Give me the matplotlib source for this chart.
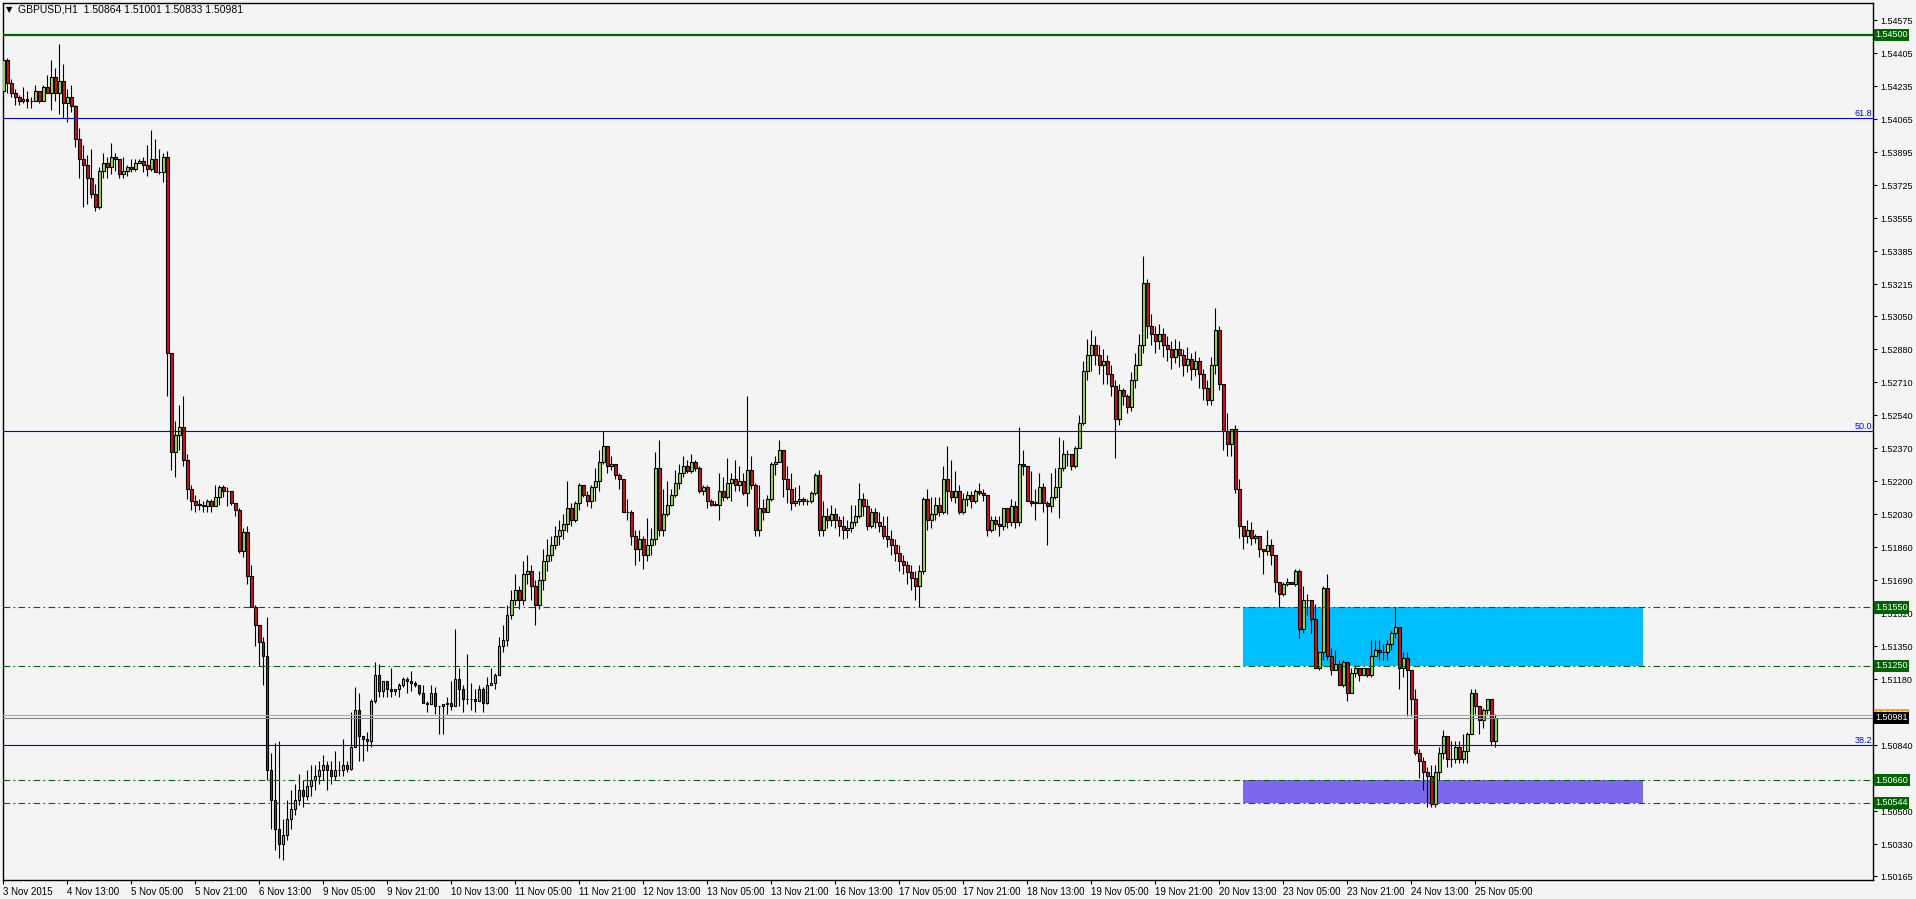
import numpy as np
import matplotlib.pyplot as plt

# ---------- data (GBPUSD H1, one value per bar) ----------
symbol_text = "GBPUSD,H1  1.50864 1.51001 1.50833 1.50981"
first_open = 1.5421
last_open = 1.50864

closes = [
    1.5437, 1.5425, 1.5420, 1.5418, 1.5416, 1.5417, 1.5416, 1.5416, 1.5421, 1.5416,
    1.5423, 1.5420, 1.5428, 1.5420, 1.5426, 1.5415, 1.5418, 1.5413, 1.5396, 1.5386,
    1.5383, 1.5376, 1.5368, 1.5361, 1.5380, 1.5384, 1.5382, 1.5387, 1.5386, 1.5378,
    1.5380, 1.5382, 1.5381, 1.5384, 1.5385, 1.5383, 1.5381, 1.5386, 1.5379, 1.5379,
    1.5387, 1.5286, 1.5235, 1.5244, 1.5248, 1.5231, 1.5216, 1.5210, 1.5208, 1.5208,
    1.5207, 1.5210, 1.5207, 1.5212, 1.5217, 1.5215, 1.5215, 1.5209, 1.5205, 1.5184,
    1.5194, 1.5171, 1.5155, 1.5146, 1.5137, 1.5130, 1.5071, 1.5056, 1.5041, 1.5033,
    1.5038, 1.5046, 1.5051, 1.5056, 1.5061, 1.5058, 1.5063, 1.5066, 1.5068, 1.5071,
    1.5074, 1.5071, 1.5068, 1.5071, 1.5071, 1.5074, 1.5072, 1.5083, 1.5102, 1.5089,
    1.5087, 1.5086, 1.5107, 1.5120, 1.5112, 1.5117, 1.5113, 1.5112, 1.5113, 1.5115,
    1.5118, 1.5117, 1.5116, 1.5115, 1.5111, 1.5106, 1.5105, 1.5111, 1.5104, 1.5104,
    1.5105, 1.5106, 1.5104, 1.5118, 1.5113, 1.5108, 1.5108, 1.5108, 1.5107, 1.5113,
    1.5106, 1.5115, 1.5116, 1.5120, 1.5135, 1.5138, 1.5151, 1.5159, 1.5164, 1.5159,
    1.5172, 1.5174, 1.5166, 1.5156, 1.5169, 1.5179, 1.5182, 1.5187, 1.5192, 1.5195,
    1.5198, 1.5206, 1.5200, 1.5209, 1.5218, 1.5213, 1.5210, 1.5217, 1.5220, 1.5230,
    1.5238, 1.5228, 1.5229, 1.5223, 1.5221, 1.5204, 1.5204, 1.5192, 1.5185, 1.5190,
    1.5182, 1.5187, 1.5190, 1.5227, 1.5195, 1.5203, 1.5208, 1.5213, 1.5219, 1.5224,
    1.5228, 1.5225, 1.5230, 1.5227, 1.5215, 1.5217, 1.5210, 1.5208, 1.5208, 1.5215,
    1.5212, 1.5219, 1.5221, 1.5218, 1.5220, 1.5214, 1.5226, 1.5218, 1.5195, 1.5206,
    1.5204, 1.5211, 1.5229, 1.5230, 1.5236, 1.5221, 1.5216, 1.5209, 1.5210, 1.5211,
    1.5210, 1.5210, 1.5214, 1.5223, 1.5195, 1.5202, 1.5200, 1.5203, 1.5200, 1.5197,
    1.5195, 1.5196, 1.5199, 1.5202, 1.5211, 1.5207, 1.5197, 1.5204, 1.5199, 1.5197,
    1.5192, 1.5190, 1.5187, 1.5183, 1.5179, 1.5177, 1.5173, 1.5170, 1.5166, 1.5174,
    1.5211, 1.5200, 1.5203, 1.5208, 1.5204, 1.5221, 1.5215, 1.5212, 1.5215, 1.5204,
    1.5211, 1.5213, 1.5210, 1.5215, 1.5214, 1.5213, 1.5195, 1.5200, 1.5198, 1.5197,
    1.5206, 1.5199, 1.5207, 1.5199, 1.5229, 1.5228, 1.5210, 1.5209, 1.5209, 1.5217,
    1.5209, 1.5207, 1.5212, 1.5217, 1.5227, 1.5234, 1.5234, 1.5228, 1.5237, 1.5250,
    1.5277, 1.5285, 1.5290, 1.5285, 1.5280, 1.5282, 1.5275, 1.5269, 1.5252, 1.5267,
    1.5264, 1.5258, 1.5272, 1.5280, 1.5290, 1.5322, 1.5300, 1.5296, 1.5292, 1.5296,
    1.5290, 1.5288, 1.5284, 1.5288, 1.5285, 1.5280, 1.5283, 1.5278, 1.5282, 1.5275,
    1.5268, 1.5262, 1.5280, 1.5298, 1.5270, 1.5246, 1.5239, 1.5247, 1.5216, 1.5197,
    1.5192, 1.5195, 1.5191, 1.5192, 1.5185, 1.5184, 1.5187, 1.5182, 1.5168, 1.5162,
    1.5167, 1.5168, 1.5167, 1.5174, 1.5144, 1.5159, 1.5159, 1.5149, 1.5124, 1.5132,
    1.5165, 1.5130, 1.5123, 1.5126, 1.5115, 1.5127, 1.5111, 1.5121, 1.5124, 1.5120,
    1.5124, 1.5120, 1.5130, 1.5133, 1.5132, 1.5132, 1.5136, 1.5142, 1.5145, 1.5124,
    1.5129, 1.5123, 1.5108, 1.5080, 1.5076, 1.5070, 1.5068, 1.5054, 1.5070, 1.5080,
    1.5089, 1.5077, 1.5077, 1.5083, 1.5077, 1.5081, 1.5090, 1.5111, 1.5104, 1.5097,
    1.5102, 1.5108, 1.5086, 1.50981,
]

highs = [
    1.5437, 1.5438, 1.5427, 1.5422, 1.5419, 1.5423, 1.5421, 1.5418, 1.5424, 1.5421,
    1.5424, 1.5429, 1.5437, 1.5433, 1.5445, 1.5435, 1.5422, 1.5424, 1.5414, 1.5402,
    1.5393, 1.5388, 1.5391, 1.5373, 1.5382, 1.5389, 1.5387, 1.5394, 1.5389, 1.5386,
    1.5387, 1.5383, 1.5386, 1.5386, 1.5386, 1.5387, 1.5393, 1.5401, 1.5396, 1.5391,
    1.5389, 1.5390, 1.5286, 1.5251, 1.5259, 1.5264, 1.5234, 1.5218, 1.5213, 1.5211,
    1.5210, 1.5211, 1.5211, 1.5218, 1.5218, 1.5218, 1.5217, 1.5215, 1.5209, 1.5206,
    1.5196, 1.5197, 1.5177, 1.5156, 1.5146, 1.5140, 1.5150, 1.5080, 1.5085, 1.5086,
    1.5046, 1.5056, 1.5061, 1.5064, 1.5069, 1.5066, 1.5071, 1.5074, 1.5074, 1.5076,
    1.5079, 1.5076, 1.5076, 1.5081, 1.5076, 1.5087, 1.5076, 1.5101, 1.5114, 1.5111,
    1.5089, 1.5091, 1.5108, 1.5127, 1.5126, 1.5117, 1.5117, 1.5124, 1.5113, 1.5116,
    1.5119, 1.5119, 1.5122, 1.5117, 1.5115, 1.5115, 1.5107, 1.5115, 1.5114, 1.5104,
    1.5105, 1.5109, 1.5117, 1.5144, 1.5124, 1.5115, 1.5131, 1.5116, 1.5113, 1.5115,
    1.5114, 1.5119, 1.5124, 1.5121, 1.5140, 1.5146, 1.5156, 1.5164, 1.5172, 1.5166,
    1.5179, 1.5182, 1.5177, 1.5169, 1.5174, 1.5185, 1.5190, 1.5192, 1.5197, 1.5200,
    1.5203, 1.5220, 1.5209, 1.5210, 1.5219, 1.5218, 1.5215, 1.5218, 1.5227, 1.5236,
    1.5246, 1.5238, 1.5233, 1.5229, 1.5224, 1.5221, 1.5211, 1.5205, 1.5195, 1.5195,
    1.5192, 1.5201, 1.5196, 1.5235, 1.5241, 1.5216, 1.5220, 1.5216, 1.5226, 1.5229,
    1.5233, 1.5231, 1.5234, 1.5231, 1.5228, 1.5218, 1.5218, 1.5211, 1.5210, 1.5224,
    1.5222, 1.5232, 1.5224, 1.5231, 1.5228, 1.5224, 1.5264, 1.5233, 1.5219, 1.5218,
    1.5211, 1.5213, 1.5230, 1.5233, 1.5241, 1.5230, 1.5228, 1.5224, 1.5217, 1.5218,
    1.5212, 1.5211, 1.5215, 1.5224, 1.5226, 1.5210, 1.5206, 1.5208, 1.5206, 1.5202,
    1.5202, 1.5200, 1.5208, 1.5208, 1.5219, 1.5214, 1.5211, 1.5206, 1.5206, 1.5204,
    1.5202, 1.5202, 1.5195, 1.5190, 1.5187, 1.5182, 1.5179, 1.5177, 1.5174, 1.5177,
    1.5212, 1.5216, 1.5212, 1.5212, 1.5212, 1.5228, 1.5238, 1.5231, 1.5225, 1.5218,
    1.5214, 1.5215, 1.5215, 1.5216, 1.5219, 1.5216, 1.5213, 1.5202, 1.5202, 1.5202,
    1.5206, 1.5206, 1.5211, 1.5210, 1.5248, 1.5236, 1.5228, 1.5225, 1.5216, 1.5224,
    1.5219, 1.5210, 1.5224, 1.5227, 1.5243, 1.5241, 1.5236, 1.5234, 1.5238, 1.5254,
    1.5282, 1.5293, 1.5298, 1.5295, 1.5290, 1.5288, 1.5285, 1.5280, 1.5272, 1.5270,
    1.5268, 1.5265, 1.5276, 1.5286, 1.5296, 1.5336, 1.5324, 1.5306, 1.5300, 1.5301,
    1.5299, 1.5295, 1.5292, 1.5293, 1.5292, 1.5288, 1.5289, 1.5286, 1.5287, 1.5284,
    1.5278, 1.5272, 1.5284, 1.5309, 1.5300, 1.5270, 1.5255, 1.5247, 1.5249, 1.5221,
    1.5197, 1.5200, 1.5199, 1.5193, 1.5192, 1.5185, 1.5195, 1.5190, 1.5182, 1.5168,
    1.5168, 1.5170, 1.5168, 1.5175, 1.5175, 1.5166, 1.5162, 1.5159, 1.5157, 1.5132,
    1.5166, 1.5172, 1.5134, 1.5133, 1.5128, 1.5128, 1.5117, 1.5124, 1.5125, 1.5124,
    1.5124, 1.5124, 1.5138, 1.5138, 1.5138, 1.5136, 1.5138, 1.5143, 1.5155, 1.5145,
    1.5132, 1.5132, 1.5114, 1.5113, 1.5082, 1.5078, 1.5073, 1.5074, 1.5074, 1.5083,
    1.5092, 1.5089, 1.5086, 1.5086, 1.5086, 1.5090, 1.5091, 1.5113, 1.5113, 1.5104,
    1.5103, 1.5108, 1.5108, 1.51001,
]

lows = [
    1.5416, 1.5420, 1.5418, 1.5414, 1.5414, 1.5415, 1.5412, 1.5412, 1.5416, 1.5415,
    1.5416, 1.5420, 1.5411, 1.5416, 1.5409, 1.5407, 1.5405, 1.5410, 1.5392, 1.5376,
    1.5361, 1.5363, 1.5366, 1.5359, 1.5360, 1.5376, 1.5376, 1.5378, 1.5380, 1.5376,
    1.5376, 1.5377, 1.5379, 1.5380, 1.5384, 1.5379, 1.5377, 1.5380, 1.5379, 1.5378,
    1.5374, 1.5264, 1.5226, 1.5222, 1.5236, 1.5228, 1.5211, 1.5205, 1.5204, 1.5205,
    1.5204, 1.5204, 1.5204, 1.5208, 1.5208, 1.5212, 1.5207, 1.5208, 1.5202, 1.5183,
    1.5181, 1.5167, 1.5155, 1.5135, 1.5125, 1.5115, 1.5066, 1.5041, 1.5030, 1.5026,
    1.5025, 1.5035, 1.5041, 1.5048, 1.5053, 1.5052, 1.5056, 1.5058, 1.5061, 1.5064,
    1.5066, 1.5061, 1.5064, 1.5066, 1.5068, 1.5068, 1.5070, 1.5071, 1.5083, 1.5076,
    1.5076, 1.5081, 1.5083, 1.5106, 1.5109, 1.5109, 1.5109, 1.5109, 1.5110, 1.5109,
    1.5114, 1.5111, 1.5112, 1.5114, 1.5110, 1.5106, 1.5101, 1.5105, 1.5100, 1.5090,
    1.5090, 1.5100, 1.5102, 1.5104, 1.5104, 1.5101, 1.5105, 1.5102, 1.5101, 1.5107,
    1.5101, 1.5105, 1.5115, 1.5113, 1.5120, 1.5132, 1.5135, 1.5149, 1.5156, 1.5154,
    1.5156, 1.5167, 1.5159, 1.5146, 1.5154, 1.5164, 1.5174, 1.5179, 1.5185, 1.5187,
    1.5190, 1.5194, 1.5197, 1.5199, 1.5205, 1.5212, 1.5207, 1.5206, 1.5210, 1.5215,
    1.5229, 1.5224, 1.5226, 1.5221, 1.5216, 1.5204, 1.5200, 1.5187, 1.5177, 1.5179,
    1.5175, 1.5179, 1.5182, 1.5187, 1.5192, 1.5192, 1.5202, 1.5207, 1.5212, 1.5216,
    1.5222, 1.5224, 1.5224, 1.5225, 1.5214, 1.5213, 1.5206, 1.5207, 1.5207, 1.5200,
    1.5210, 1.5211, 1.5210, 1.5215, 1.5215, 1.5213, 1.5207, 1.5216, 1.5192, 1.5192,
    1.5200, 1.5204, 1.5210, 1.5223, 1.5230, 1.5212, 1.5209, 1.5205, 1.5207, 1.5208,
    1.5208, 1.5208, 1.5209, 1.5213, 1.5192, 1.5192, 1.5196, 1.5197, 1.5196, 1.5192,
    1.5190, 1.5191, 1.5194, 1.5197, 1.5201, 1.5202, 1.5195, 1.5196, 1.5196, 1.5194,
    1.5190, 1.5186, 1.5182, 1.5179, 1.5174, 1.5172, 1.5167, 1.5164, 1.5159, 1.5155,
    1.5172, 1.5195, 1.5196, 1.5200, 1.5202, 1.5203, 1.5203, 1.5210, 1.5209, 1.5203,
    1.5203, 1.5207, 1.5206, 1.5209, 1.5213, 1.5210, 1.5192, 1.5194, 1.5195, 1.5192,
    1.5195, 1.5196, 1.5197, 1.5196, 1.5197, 1.5223, 1.5210, 1.5207, 1.5200, 1.5209,
    1.5204, 1.5187, 1.5204, 1.5211, 1.5201, 1.5225, 1.5228, 1.5226, 1.5227, 1.5237,
    1.5249, 1.5272, 1.5277, 1.5280, 1.5275, 1.5270, 1.5270, 1.5264, 1.5232, 1.5249,
    1.5259, 1.5255, 1.5256, 1.5268, 1.5280, 1.5286, 1.5294, 1.5290, 1.5286, 1.5288,
    1.5284, 1.5282, 1.5278, 1.5281, 1.5279, 1.5274, 1.5276, 1.5272, 1.5274, 1.5268,
    1.5262, 1.5259, 1.5259, 1.5275, 1.5267, 1.5236, 1.5233, 1.5233, 1.5214, 1.5191,
    1.5185, 1.5188, 1.5187, 1.5188, 1.5181, 1.5172, 1.5182, 1.5177, 1.5163, 1.5155,
    1.5161, 1.5166, 1.5167, 1.5166, 1.5139, 1.5142, 1.5151, 1.5142, 1.5124, 1.5123,
    1.5128, 1.5128, 1.5120, 1.5123, 1.5115, 1.5114, 1.5107, 1.5111, 1.5119, 1.5117,
    1.5120, 1.5119, 1.5119, 1.5130, 1.5128, 1.5128, 1.5128, 1.5133, 1.5139, 1.5113,
    1.5119, 1.5099, 1.5099, 1.5079, 1.5067, 1.5061, 1.5052, 1.5052, 1.5052, 1.5066,
    1.5077, 1.5073, 1.5073, 1.5075, 1.5075, 1.5075, 1.5075, 1.5090, 1.5100, 1.5090,
    1.5093, 1.5100, 1.5084, 1.50833,
]

# one label every 16 bars
time_labels = [
    "3 Nov 2015", "4 Nov 13:00", "5 Nov 05:00", "5 Nov 21:00", "6 Nov 13:00",
    "9 Nov 05:00", "9 Nov 21:00", "10 Nov 13:00", "11 Nov 05:00", "11 Nov 21:00",
    "12 Nov 13:00", "13 Nov 05:00", "13 Nov 21:00", "16 Nov 13:00", "17 Nov 05:00",
    "17 Nov 21:00", "18 Nov 13:00", "19 Nov 05:00", "19 Nov 21:00", "20 Nov 13:00",
    "23 Nov 05:00", "23 Nov 21:00", "24 Nov 13:00", "25 Nov 05:00",
]

price_ticks = [
    1.54575, 1.54405, 1.54235, 1.54065, 1.53895, 1.53725, 1.53555, 1.53385,
    1.53215, 1.53050, 1.52880, 1.52710, 1.52540, 1.52370, 1.52200, 1.52030,
    1.51860, 1.51690, 1.51520, 1.51350, 1.51180, 1.51010, 1.50840, 1.50670,
    1.50500, 1.50330, 1.50165,
]
# these two scale labels sit fully under the price boxes
hidden_ticks = [1.51010, 1.50670]

level_main = 1.54500
fib_levels = [1.54070, 1.52458, 1.50841]
fib_names = ["61.8", "50.0", "38.2"]
zone_levels = [1.51550, 1.51250, 1.50660, 1.50544]
ask_price = 1.50997
bid_price = 1.50981
supply_zone = (1.51250, 1.51550)
demand_zone = (1.50544, 1.50660)
zone_bars = (309.9, 409.9)

# ---------- figure ----------
W, H, DPI = 1916, 899, 100
BG = "#f4f4f4"
FONT = ["Liberation Sans", "DejaVu Sans"]
plt.rcParams["font.family"] = FONT

fig = plt.figure(figsize=(W / DPI, H / DPI), dpi=DPI, facecolor=BG)
ax = fig.add_axes([3 / W, (H - 880) / H, (1873 - 3) / W, (880 - 3) / H])
ax.set_facecolor(BG)

c = np.array(closes)
o = np.concatenate([[first_open], c[:-1]])
o[-1] = last_open
hi = np.maximum(np.array(highs), np.maximum(o, c))
lo = np.minimum(np.array(lows), np.minimum(o, c))
x = np.arange(len(c))
up = c >= o

# zones
for (y0, y1), col in [(supply_zone, "#00bfff"), (demand_zone, "#7b68ee")]:
    ax.fill_between(zone_bars, y0, y1, color=col, lw=0, zorder=1)

# wicks and bodies
ax.vlines(x, lo, hi, color="black", lw=0.8, zorder=3)
body_h = np.maximum(np.abs(c - o), 0.000005)
ax.bar(x[up], body_h[up], bottom=np.minimum(o, c)[up], width=0.55,
       color="#9be22d", edgecolor="black", linewidth=0.8, zorder=4)
ax.bar(x[~up], body_h[~up], bottom=np.minimum(o, c)[~up], width=0.55,
       color="#d01414", edgecolor="black", linewidth=0.8, zorder=4)

# horizontal levels
ax.axhline(level_main, color="#006400", lw=1.6, zorder=5)
for lv, name in zip(fib_levels, fib_names):
    ax.axhline(lv, color="#0000ff", lw=0.8, zorder=5)
    ax.text(0.9995, lv, name, color="#0000ff", fontsize=6.5, ha="right", va="bottom",
            transform=ax.get_yaxis_transform(), zorder=6)
for lv in zone_levels:
    ax.axhline(lv, color="#006400", lw=0.8, dashes=(6, 3, 1.5, 3), zorder=5)
ax.axhline(ask_price, color="#ffa500", lw=0.8, zorder=5)
ax.axhline(bid_price, color="#778899", lw=0.8, zorder=5)

# ---------- axes ----------
ax.set_xlim(-0.1, 467.4)
ax.set_ylim(1.50146, 1.54663)

ax.yaxis.tick_right()
ax.set_yticks(price_ticks)
ax.set_yticklabels(["" if p in hidden_ticks else f"{p:.5f}" for p in price_ticks])
ax.set_xticks(np.arange(len(time_labels)) * 16)
ax.set_xticklabels(time_labels, ha="left")
ax.tick_params(axis="y", direction="out", length=3, width=0.8, colors="black",
               labelsize=6.5, pad=2)
ax.tick_params(axis="x", direction="out", length=3, width=0.8, colors="black",
               labelsize=7, pad=2)
for s in ax.spines.values():
    s.set_color("black")
    s.set_linewidth(1.0)

# price boxes on the right scale
tr = ax.get_yaxis_transform()
boxes = [(level_main, "#006400"), (1.51550, "#006400"), (1.51250, "#006400"),
         (ask_price, "#ffa500"), (bid_price, "#000000"),
         (1.50660, "#006400"), (1.50544, "#006400")]
for k, (p, col) in enumerate(boxes):
    ax.text(1.0012, p, f"{p:.5f}", color="white", fontsize=6.5, ha="left", va="center",
            transform=tr, clip_on=False, zorder=10 + k,
            bbox=dict(boxstyle="square,pad=0.18", fc=col, ec="none"))

# chart header
fig.text(6 / W, 1 - 10 / H, "\u25bc", fontsize=6, ha="left", va="center",
         family=["DejaVu Sans"])
fig.text(18 / W, 1 - 10 / H, symbol_text, fontsize=7.5, ha="left", va="center")

fig.savefig("out.png", dpi=DPI, facecolor=BG)
